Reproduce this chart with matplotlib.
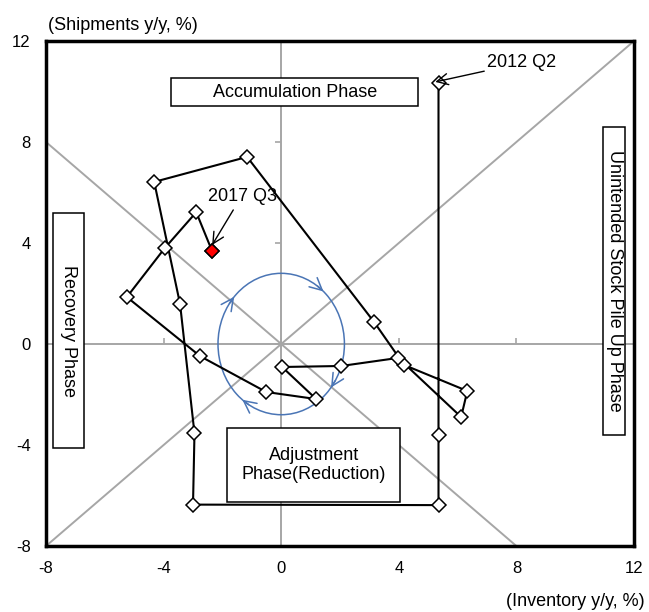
import numpy as np
import matplotlib
matplotlib.use('Agg')
import matplotlib.pyplot as plt
from matplotlib.patches import Rectangle, Ellipse

plt.rcParams['font.family'] = ['Liberation Sans', 'DejaVu Sans']
plt.rcParams['axes.unicode_minus'] = False

# 在庫循環図のデータ（2012 Q2 -> 2017 Q3）
inventory = [5.35, 5.35, 5.35, -3.0, -2.95, -3.44, -4.32, -1.16, 3.16, 4.18, 6.33,
             6.12, 3.98, 2.04, 0.03, 1.19, -0.51, -2.76, -5.25, -3.96, -2.89, -2.35]
shipments = [10.34, -3.6, -6.38, -6.36, -3.54, 1.58, 6.42, 7.41, 0.87, -0.83, -1.86,
             -2.89, -0.55, -0.87, -0.91, -2.18, -1.9, -0.48, 1.86, 3.8, 5.22, 3.68]
ticks = [-8, -4, 0, 4, 8, 12]
xlim = (-8, 12)
ylim = (-8, 12)

fig = plt.figure(figsize=(6.49, 6.12), dpi=100)
ax = fig.add_axes([0.0709, 0.1078, 0.906, 0.8252])
ax.set_xlim(xlim)
ax.set_ylim(ylim)

gray = '#a6a6a6'
# 45度線と原点の軸
ax.plot([xlim[0], xlim[1]], [xlim[0], xlim[1]], color=gray, lw=1.4, zorder=1)
ax.plot([xlim[0], -xlim[0]], [-xlim[0], xlim[0]], color=gray, lw=1.4, zorder=1)
ax.axhline(0, color=gray, lw=1.4, zorder=1)
ax.axvline(0, color=gray, lw=1.4, zorder=1)
ax.plot(ticks, [0] * len(ticks), ls='', marker=2, ms=4, color=gray, mew=1.2, zorder=1)
ax.plot([0] * len(ticks), ticks, ls='', marker=0, ms=4, color=gray, mew=1.2, zorder=1)

# 循環を示す楕円と矢印
blue = '#4a75b5'
rx, ry = 2.15, 2.8
ax.add_patch(Ellipse((0, 0), 2 * rx, 2 * ry, fill=False, ec=blue, lw=1.1, zorder=2))
for t in [138, 48, -38, -128]:
    a1 = np.radians(t + 7)
    a2 = np.radians(t)
    ax.annotate('', xy=(rx * np.cos(a2), ry * np.sin(a2)),
                xytext=(rx * np.cos(a1), ry * np.sin(a1)),
                arrowprops=dict(arrowstyle='->', color=blue, lw=1.1, mutation_scale=22,
                                shrinkA=0, shrinkB=0),
                zorder=2)

# データ系列
ax.plot(inventory, shipments, color='black', lw=1.5, marker='D', ms=7.5,
        mfc='white', mec='black', mew=1.1, zorder=3)
ax.plot(inventory[-1], shipments[-1], ls='', marker='D', ms=7.5, mfc='#ff0000',
        mec='black', mew=1.1, zorder=4)

# ラベル
ax.annotate('2012 Q2', xy=(5.24, 10.38), xytext=(7.0, 11.13), fontsize=13,
            va='center', ha='left',
            arrowprops=dict(arrowstyle='->', color='black', lw=1, mutation_scale=20,
                            shrinkA=0, shrinkB=0), zorder=5)
ax.text(-2.48, 5.86, '2017 Q3', fontsize=13, va='center', ha='left', zorder=5)
ax.annotate('', xy=(-2.35, 3.92), xytext=(-1.63, 5.31),
            arrowprops=dict(arrowstyle='->', color='black', lw=1, mutation_scale=20,
                            shrinkA=0, shrinkB=0), zorder=5)

# 局面のテキストボックス
boxes = [
    ((-3.74, 9.43), 8.40, 1.10, 'Accumulation Phase', 0),
    ((-7.76, -4.12), 1.06, 9.31, 'Recovery Phase', -90),
    ((10.95, -3.60), 0.75, 12.19, 'Unintended Stock Pile Up Phase', -90),
    ((-1.84, -6.26), 5.89, 2.93, 'Adjustment\nPhase(Reduction)', 0),
]
for (x0, y0), w, h, txt, rot in boxes:
    ax.add_patch(Rectangle((x0, y0), w, h, fc='white', ec='black', lw=1.1, zorder=5))
    ax.text(x0 + w / 2, y0 + h / 2, txt, ha='center', va='center', rotation=rot,
            fontsize=13, linespacing=1.2, zorder=6)

ax.set_xticks(ticks)
ax.set_yticks(ticks)
ax.tick_params(length=0, labelsize=12, pad=11)
for s in ax.spines.values():
    s.set_linewidth(2.5)
    s.set_zorder(7)

fig.text(48 / 649, 1 - 25 / 612, '(Shipments y/y, %)', fontsize=13, ha='left', va='center')
fig.text(0.994, 1 - 602 / 612, '(Inventory y/y, %)', fontsize=13, ha='right', va='center')

fig.savefig('out.png', dpi=100)
